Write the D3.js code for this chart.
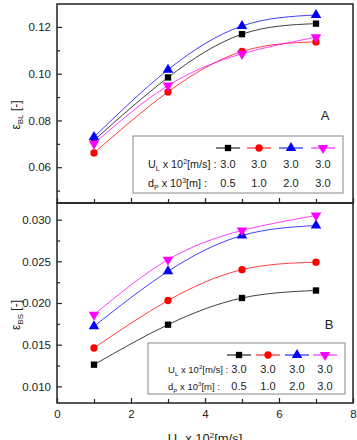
<!DOCTYPE html>
<html>
<head>
<meta charset="utf-8">
<script src="https://cdn.jsdelivr.net/npm/d3@7"></script>
<style>
  body { margin: 0; background: #fff; }
  text { font-family: "Liberation Sans", Arial, sans-serif; fill: #222; }
</style>
</head>
<body>
<div id="chart"></div>
<script>
// data
const uL = [1, 3, 5, 7];                       // U_L x 10^2 [m/s]
const blSquare   = [0.0715, 0.0984, 0.1169, 0.1214];
const blCircle   = [0.0661, 0.0922, 0.1095, 0.1136];
const blTriangle = [0.0729, 0.1017, 0.1204, 0.1251];
const blTriDown  = [0.0701, 0.0949, 0.1085, 0.1156];
const bsSquare   = [0.0126, 0.0174, 0.0206, 0.0215];
const bsCircle   = [0.0146, 0.0203, 0.0240, 0.0249];
const bsTriangle = [0.0172, 0.0238, 0.0281, 0.0293];
const bsTriDown  = [0.0186, 0.0252, 0.0287, 0.0305];
const ulLabels = ["3.0", "3.0", "3.0", "3.0"];
const dpLabels = ["0.5", "1.0", "2.0", "3.0"];
const xTicks = [0, 2, 4, 6, 8];
const blTicks = [0.06, 0.08, 0.10, 0.12];
const bsTicks = [0.010, 0.015, 0.020, 0.025, 0.030];

const colors = ["#000000", "#ff0000", "#0000ff", "#ff00ff"];
const shapes = [d3.symbolSquare, d3.symbolCircle, d3.symbolTriangle, d3.symbolTriangle];
const sizes = [40, 42, 48, 48];
const rotations = [0, 0, 0, 180];

const width = 357, height = 440;
const left = 57, right = 353;

const svg = d3.select("#chart").append("svg")
    .attr("width", width)
    .attr("height", height);

let x = d3.scaleLinear().domain([0, 8]).range([left, right]);

function drawPanel(cfg) {
  let y = d3.scaleLinear().domain(cfg.domain).range([cfg.bottom, cfg.top]);
  let g = svg.append("g");

  // y ticks (inward) major + minor
  let yAxis = g.append("g").attr("transform", `translate(${left},0)`)
      .call(d3.axisLeft(y).tickValues(cfg.ticks).tickSize(-5).tickPadding(6).tickFormat(d3.format(cfg.fmt)));
  let yMinor = g.append("g").attr("transform", `translate(${left},0)`)
      .call(d3.axisLeft(y).tickValues(cfg.minor).tickSize(-3).tickFormat(""));
  [yAxis, yMinor].forEach(a => {
    a.select(".domain").remove();
    a.selectAll("line").attr("stroke", "#222").attr("stroke-width", 1.2);
    a.selectAll("text").style("font-size", "11.5px").attr("fill", "#222");
  });

  // x ticks (inward) on panel bottom
  let xAxis = g.append("g").attr("transform", `translate(0,${cfg.bottom})`)
      .call(d3.axisBottom(x).tickValues(xTicks).tickSize(-5).tickPadding(7)
        .tickFormat(cfg.showX ? d3.format("d") : ""));
  let xMinor = g.append("g").attr("transform", `translate(0,${cfg.bottom})`)
      .call(d3.axisBottom(x).tickValues(uL).tickSize(-4).tickFormat(""));
  [xAxis, xMinor].forEach(a => {
    a.select(".domain").remove();
    a.selectAll("line").attr("stroke", "#222").attr("stroke-width", 1.2);
    a.selectAll("text").style("font-size", "11.5px").attr("fill", "#222");
  });

  // fitted curves + markers
  let line = d3.line()
      .x((d, i) => x(uL[i]))
      .y(d => y(d))
      .curve(d3.curveNatural);

  cfg.series.forEach((s, k) => {
    g.append("path")
        .attr("d", line(s))
        .attr("fill", "none")
        .attr("stroke", colors[k])
        .attr("stroke-opacity", 0.75)
        .attr("stroke-width", 1);
  });
  cfg.series.forEach((s, k) => {
    g.selectAll(null)
        .data(s)
        .join("path")
        .attr("transform", (d, i) => `translate(${x(uL[i])},${y(d)}) rotate(${rotations[k]})`)
        .attr("d", d3.symbol().type(shapes[k]).size(sizes[k]))
        .attr("fill", colors[k]);
  });

  // legend box
  let L = cfg.legend;
  let lg = g.append("g");
  lg.append("rect")
      .attr("x", L.x).attr("y", L.y)
      .attr("width", L.w).attr("height", L.h)
      .attr("fill", "#fff").attr("stroke", "#888").attr("stroke-width", 1);

  L.cols.forEach((cx, k) => {
    lg.append("line")
        .attr("x1", cx - 12).attr("x2", cx + 12)
        .attr("y1", L.y + 12).attr("y2", L.y + 12)
        .attr("stroke", colors[k]).attr("stroke-width", 1);
    lg.append("path")
        .attr("transform", `translate(${cx},${L.y + 12}) rotate(${rotations[k]})`)
        .attr("d", d3.symbol().type(shapes[k]).size(sizes[k]))
        .attr("fill", colors[k]);
    lg.append("text").attr("x", cx).attr("y", L.y + L.row1)
        .attr("text-anchor", "middle").style("font-size", "11px").text(ulLabels[k]);
    lg.append("text").attr("x", cx).attr("y", L.y + L.row2)
        .attr("text-anchor", "middle").style("font-size", "11px").text(dpLabels[k]);
  });

  let fs = L.font, sub = L.font * 0.65;
  let t1 = lg.append("text").attr("x", L.labelX).attr("y", L.y + L.row1)
      .style("font-size", fs + "px");
  t1.append("tspan").text("U");
  t1.append("tspan").attr("dy", 3).style("font-size", sub + "px").text("L");
  t1.append("tspan").attr("dy", -3).text(" x 10");
  t1.append("tspan").attr("dy", -4).style("font-size", sub + "px").text("2");
  t1.append("tspan").attr("dy", 4).text("[m/s] :");

  let t2 = lg.append("text").attr("x", L.labelX).attr("y", L.y + L.row2)
      .style("font-size", fs + "px");
  t2.append("tspan").text("d");
  t2.append("tspan").attr("dy", 3).style("font-size", sub + "px").text("P");
  t2.append("tspan").attr("dy", -3).text(" x 10");
  t2.append("tspan").attr("dy", -4).style("font-size", sub + "px").text("3");
  t2.append("tspan").attr("dy", 4).text("[m] :");

  // panel letter
  g.append("text").attr("x", cfg.letter[0]).attr("y", cfg.letter[1])
      .attr("text-anchor", "middle").style("font-size", "13px").text(cfg.name);

  // y title
  let yt = g.append("text")
      .attr("transform", `translate(20,${cfg.titleY}) rotate(-90)`)
      .attr("text-anchor", "middle").style("font-size", "12px");
  yt.append("tspan").text("ε");
  yt.append("tspan").attr("dy", 3).style("font-size", "8px").text(cfg.sub);
  yt.append("tspan").attr("dy", -3).text(" [-]");

  // frame
  g.append("rect")
      .attr("x", left).attr("y", cfg.top)
      .attr("width", right - left).attr("height", cfg.bottom - cfg.top)
      .attr("fill", "none").attr("stroke", "#222").attr("stroke-width", 1.5);
}

drawPanel({
  name: "A", sub: "BL", top: 4, bottom: 203,
  domain: [0.0447, 0.1298],
  ticks: blTicks, minor: [0.05, 0.07, 0.09, 0.11], fmt: ".2f",
  series: [blSquare, blCircle, blTriangle, blTriDown],
  legend: { x: 133, y: 136, w: 210, h: 57, labelX: 148, row1: 32, row2: 51,
            font: 10.8, cols: [228, 259, 291, 323] },
  letter: [325, 120], titleY: 115, showX: false
});

drawPanel({
  name: "B", sub: "BS", top: 203, bottom: 403,
  domain: [0.0080, 0.0320],
  ticks: bsTicks, minor: [0.0125, 0.0175, 0.0225, 0.0275], fmt: ".3f",
  series: [bsSquare, bsCircle, bsTriangle, bsTriDown],
  legend: { x: 148, y: 343, w: 197, h: 51, labelX: 168, row1: 30, row2: 47,
            font: 9.5, cols: [239, 268, 297, 325] },
  letter: [329, 329], titleY: 315, showX: true
});

// x title
let xt = svg.append("text").attr("x", 205).attr("y", 443)
    .attr("text-anchor", "middle").style("font-size", "13px");
xt.append("tspan").text("U");
xt.append("tspan").attr("dy", 3).style("font-size", "8px").text("L");
xt.append("tspan").attr("dy", -3).text(" x 10");
xt.append("tspan").attr("dy", -5).style("font-size", "8px").text("2");
xt.append("tspan").attr("dy", 5).text("[m/s]");
</script>
</body>
</html>
